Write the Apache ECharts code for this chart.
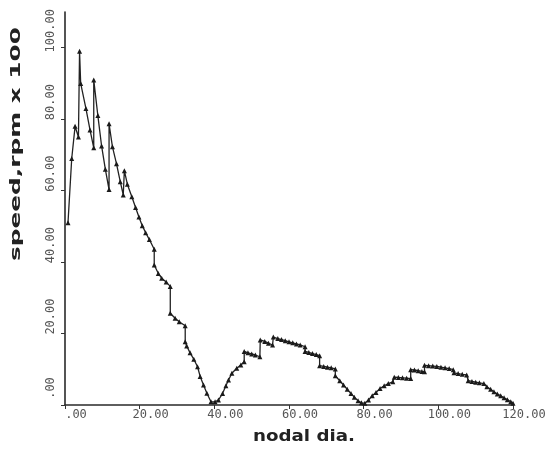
<!DOCTYPE html>
<html>
<head>
    <meta charset="utf-8">
    <title>speed vs nodal dia.</title>
    <script src="https://cdn.jsdelivr.net/npm/echarts@6/dist/echarts.min.js"></script>
    <style>
        html, body { margin: 0; padding: 0; background: #fff; }
        #chart { width: 553px; height: 451px; }
    </style>
</head>
<body>
<div id="chart"></div>
<script>
    // values
    var nodalDia = [0.8, 1.8, 2.7, 3.6, 3.9, 4.2, 5.6, 6.7, 7.7, 7.7, 8.8, 9.8, 10.8, 11.8, 11.8, 12.7, 13.8, 14.8, 15.6, 15.9,
        16.7, 17.9, 18.9, 19.8, 20.7, 21.6, 22.6, 23.9, 23.9, 25, 25.9, 27.1, 28.2, 28.2, 29.5, 30.6, 32.2, 32.2, 32.6, 33.5,
        34.5, 35.5, 36.2, 37.1, 38, 39.1, 40.2, 41.1, 42.2, 43.1, 43.8, 44.7, 46, 47.1, 48, 48, 49, 50, 51, 52.2,
        52.3, 53.5, 54.5, 55.6, 55.8, 57, 58, 59, 60, 61, 62, 63, 64.3, 64.3, 65.3, 66.3, 67.3, 68.2, 68.2, 69.3,
        70.3, 71.3, 72.4, 72.4, 73.6, 74.6, 75.6, 76.6, 77.5, 78.5, 79.4, 80.3, 81.3, 82.3, 83.3, 84.4, 85.5, 86.6, 87.8, 88.2,
        89.3, 90.4, 91.5, 92.6, 92.6, 93.6, 94.6, 95.6, 96.3, 96.3, 97.4, 98.5, 99.6, 100.7, 101.8, 102.9, 104, 104.2, 105.3, 106.4,
        107.6, 108, 109, 110, 111, 112.2, 113, 114, 114.9, 115.8, 116.7, 117.6, 118.5, 119.4, 120];
    var speed = [51, 69, 78, 75, 99, 90, 83, 77, 72, 91, 81, 72.5, 66, 60.3, 78.7, 72.3, 67.5, 62.5, 58.8, 65.6,
        61.8, 58.3, 55.3, 52.6, 50.2, 48.2, 46.3, 43.6, 39.2, 36.8, 35.5, 34.4, 33.2, 25.7, 24.3, 23.3, 22.2, 17.7, 16.5, 14.6,
        12.8, 10.7, 8, 5.6, 3.3, 0.9, 0.9, 1.4, 3.2, 5.4, 7, 8.9, 10.3, 11.2, 12.1, 15, 14.6, 14.3, 14, 13.5,
        18.2, 17.8, 17.3, 16.8, 19, 18.6, 18.3, 18, 17.7, 17.4, 17.1, 16.8, 16.3, 15, 14.7, 14.4, 14.1, 13.8, 11, 10.8,
        10.6, 10.4, 10.1, 8.2, 6.8, 5.6, 4.4, 3.2, 2.2, 1.2, 0.6, 0.5, 1.4, 2.6, 3.5, 4.6, 5.4, 6, 6.5, 7.8,
        7.7, 7.6, 7.5, 7.4, 9.9, 9.8, 9.6, 9.4, 9.3, 11.1, 11, 10.9, 10.8, 10.6, 10.4, 10.2, 9.9, 9, 8.8, 8.6,
        8.4, 6.8, 6.6, 6.4, 6.2, 6, 5.1, 4.4, 3.7, 3.1, 2.6, 2, 1.5, 0.9, 0.5];

    var xTicks = [0, 20, 40, 60, 80, 100, 120];
    var xTickLabels = ['.00', '20.00', '40.00', '60.00', '80.00', '100.00', '120.00'];
    var yTicks = [0, 20, 40, 60, 80, 100];
    var yTickLabels = ['.00', '20.00', '40.00', '60.00', '80.00', '100.00'];

    var points = nodalDia.map(function (x, i) { return [x, speed[i]]; });

    var chart = echarts.init(document.getElementById('chart'));
    chart.setOption({
        animation: false,
        backgroundColor: '#fff',
        grid: { left: 65, right: 40, top: 12, bottom: 46 },
        xAxis: {
            type: 'value',
            min: 0,
            max: 120,
            interval: 20,
            splitLine: { show: false },
            axisLine: { lineStyle: { color: '#2a2a2a', width: 1.6 } },
            axisTick: { length: 4, lineStyle: { color: '#333' } },
            axisLabel: {
                margin: 4,
                color: '#555',
                fontFamily: 'DejaVu Sans Mono',
                fontSize: 12,
                padding: [0, 0, 0, 22],
                formatter: function (v) { return xTickLabels[xTicks.indexOf(v)] || ''; }
            }
        },
        yAxis: {
            type: 'value',
            min: 0,
            max: 110,
            splitLine: { show: false },
            axisLine: { show: true, lineStyle: { color: '#2a2a2a', width: 1.6 } },
            axisTick: { show: true, length: 4, customValues: yTicks, lineStyle: { color: '#333' } },
            axisLabel: {
                customValues: yTicks,
                rotate: 90,
                margin: 8,
                color: '#555',
                fontFamily: 'DejaVu Sans Mono',
                fontSize: 12,
                padding: [0, 0, 0, 34],
                formatter: function (v) { return yTickLabels[yTicks.indexOf(v)] || ''; }
            }
        },
        graphic: [
            {
                type: 'text',
                x: 304, y: 437,
                scaleX: 1.14,
                style: {
                    text: 'nodal dia.',
                    font: 'bold 16px "DejaVu Sans"',
                    fill: '#222',
                    textAlign: 'center',
                    textVerticalAlign: 'middle'
                }
            },
            {
                type: 'text',
                x: 16, y: 144,
                rotation: Math.PI / 2,
                scaleX: 1.55,
                scaleY: 0.92,
                style: {
                    text: 'speed,rpm x 100',
                    font: 'bold 16px "DejaVu Sans"',
                    fill: '#222',
                    textAlign: 'center',
                    textVerticalAlign: 'middle'
                }
            }
        ],
        series: [{
            type: 'line',
            data: points,
            symbol: 'triangle',
            symbolSize: 5,
            lineStyle: { color: '#222', width: 1.3 },
            itemStyle: { color: '#1a1a1a' }
        }]
    });
</script>
</body>
</html>
